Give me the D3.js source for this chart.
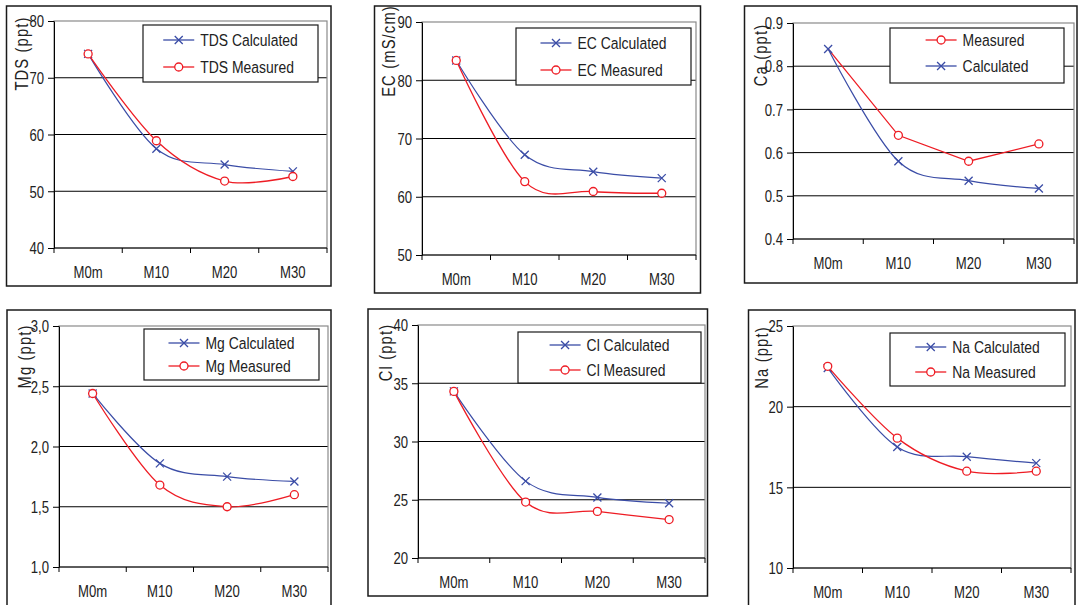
<!DOCTYPE html>
<html><head><meta charset="utf-8">
<script src="https://cdn.jsdelivr.net/npm/d3@7"></script>
<style>body{margin:0;background:#fff} svg{display:block}</style>
</head><body><svg id="c" width="1079" height="605"></svg>
<script>
// ---------- data ----------
const categories = ["M0m", "M10", "M20", "M30"];

const tdsCalc = [74.2, 57.5, 54.7, 53.5];
const tdsMeas = [74.2, 58.9, 51.8, 52.6];
const ecCalc  = [83.4, 67.2, 64.3, 63.2];
const ecMeas  = [83.4, 62.6, 60.9, 60.6];
const caCalc  = [0.84, 0.58, 0.535, 0.517];
const caMeas  = [0.84, 0.64, 0.58, 0.62];
const mgCalc  = [2.44, 1.86, 1.75, 1.71];
const mgMeas  = [2.44, 1.68, 1.50, 1.60];
const clCalc  = [34.3, 26.6, 25.2, 24.7];
const clMeas  = [34.3, 24.8, 24.0, 23.3];
const naCalc  = [22.4, 17.5, 16.9, 16.5];
const naMeas  = [22.5, 18.05, 16.0, 16.0];

const tdsTicks = [40, 50, 60, 70, 80];
const ecTicks  = [50, 60, 70, 80, 90];
const caTicks  = [0.4, 0.5, 0.6, 0.7, 0.8, 0.9];
const mgTicks  = [1.0, 1.5, 2.0, 2.5, 3.0];
const clTicks  = [20, 25, 30, 35, 40];
const naTicks  = [10, 15, 20, 25];

// ---------- fonts ----------
function hasFont(f){
  const c = document.createElement('canvas').getContext('2d');
  const s = "abcdefghijMW0123";
  c.font = "40px monospace"; const a = c.measureText(s).width;
  c.font = "40px " + f + ", monospace"; return c.measureText(s).width !== a;
}
const narrow = hasFont("'Liberation Sans Narrow'");
const fam = narrow ? "'Liberation Sans Narrow','Arial Narrow',sans-serif" : "'Liberation Sans',Arial,sans-serif";
const sx = narrow ? 1 : 0.82;

const BLUE = "#3a4ca6", RED = "#ee1c24";

// ---------- layout ----------
const fmtDot = d => d3.format(".1f")(d);
const fmtComma = d => d3.format(".1f")(d).replace(".", ",");
const fmtInt = d => String(d);

const panels = [
  {label:"TDS (ppt)", calc:tdsCalc, meas:tdsMeas, ticks:tdsTicks, fmt:fmtInt,
   names:{calc:"TDS Calculated", meas:"TDS Measured"}, legendOrder:["calc","meas"],
   frame:[6.5,6,331,286], plot:[54,21,327,248], lab:[28,53.5], box:[143,25,318,82], rows:[40,67]},
  {label:"EC (mS/cm)", calc:ecCalc, meas:ecMeas, ticks:ecTicks, fmt:fmtInt,
   names:{calc:"EC Calculated", meas:"EC Measured"}, legendOrder:["calc","meas"],
   frame:[374.5,6,700.5,293], plot:[422,22,696,255], lab:[395,51], box:[516,28,691,85], rows:[43,70]},
  {label:"Ca (ppt)", calc:caCalc, meas:caMeas, ticks:caTicks, fmt:fmtDot,
   names:{calc:"Calculated", meas:"Measured"}, legendOrder:["meas","calc"], measLinear:true, measSkipFirst:true, calcOnTop:true,
   frame:[744.5,6,1077,283], plot:[793,23,1074,239], lab:[767,55], box:[890,28,1064,83], rows:[40,66]},
  {label:"Mg (ppt)", calc:mgCalc, meas:mgMeas, ticks:mgTicks, fmt:fmtComma,
   names:{calc:"Mg Calculated", meas:"Mg Measured"}, legendOrder:["calc","meas"],
   frame:[7,310,331,615], plot:[59,326,328,567], lab:[31,356.5], box:[144,329,319,380], rows:[343,366]},
  {label:"Cl (ppt)", calc:clCalc, meas:clMeas, ticks:clTicks, fmt:fmtInt,
   names:{calc:"Cl Calculated", meas:"Cl Measured"}, legendOrder:["calc","meas"],
   frame:[368,309,707.5,596], plot:[418,325,705,558], lab:[392,352.5], box:[518,332,701,383], rows:[345,370]},
  {label:"Na (ppt)", calc:naCalc, meas:naMeas, ticks:naTicks, fmt:fmtInt,
   names:{calc:"Na Calculated", meas:"Na Measured"}, legendOrder:["calc","meas"],
   frame:[748.5,310,1075,615], plot:[793,326,1071,568], lab:[768,357.5], box:[890,333,1065,386], rows:[347,372]}
];

const svg = d3.select("#c");

function txt(g, x, y, s, size, anchor, rot, ls){
  const t = g.append("text")
    .attr("transform", `translate(${x},${y})` + (rot ? ` rotate(${rot})` : "") + (sx !== 1 ? ` scale(${sx},1)` : ""))
    .attr("font-family", fam).attr("font-size", size).attr("fill", "#222")
    .attr("text-anchor", anchor || "start").text(s);
  if (ls) t.attr("letter-spacing", ls);
  return t;
}

function marker(g, kind, x, y){
  if (kind === "calc") {
    g.append("path").attr("d", `M${x-4},${y-4}L${x+4},${y+4}M${x-4},${y+4}L${x+4},${y-4}`)
      .attr("stroke", BLUE).attr("stroke-width", 1.3).attr("fill", "none");
  } else {
    g.append("circle").attr("cx", x).attr("cy", y).attr("r", 4)
      .attr("fill", "#fff").attr("stroke", RED).attr("stroke-width", 1.3);
  }
}

panels.forEach(p => {
  const g = svg.append("g");
  const [fx0, fy0, fx1, fy1] = p.frame;
  const [L, T, R, B] = p.plot;

  g.append("rect").attr("x", fx0).attr("y", fy0).attr("width", fx1 - fx0).attr("height", fy1 - fy0)
    .attr("fill", "#fff").attr("stroke", "#1a1a1a").attr("stroke-width", 1.5);

  const x = d3.scaleBand().domain(categories).range([L, R]);
  const y = d3.scaleLinear().domain(d3.extent(p.ticks)).range([B, T]);

  // gridlines
  g.append("g").selectAll("line").data(p.ticks.slice(1, -1)).join("line")
    .attr("x1", L).attr("x2", R).attr("y1", d => y(d)).attr("y2", d => y(d))
    .attr("stroke", "#000").attr("stroke-width", 1);
  // plot area border
  g.append("rect").attr("x", L).attr("y", T).attr("width", R - L).attr("height", B - T)
    .attr("fill", "none").attr("stroke", "#8a8a8a").attr("stroke-width", 1.2);

  // y axis
  const ya = g.append("g").attr("transform", `translate(${L},0)`)
    .call(d3.axisLeft(y).tickValues(p.ticks).tickSize(6).tickSizeOuter(0).tickFormat(p.fmt));
  ya.select(".domain").attr("stroke", "#000");
  ya.selectAll(".tick line").attr("stroke", "#000");
  ya.selectAll(".tick text").attr("x", null).attr("dy", "0.36em")
    .attr("transform", `translate(-10,0)` + (sx !== 1 ? ` scale(${sx},1)` : ""))
    .attr("font-family", fam).attr("font-size", 16).attr("fill", "#222");

  // x axis
  const xa = g.append("g").attr("transform", `translate(0,${B})`);
  xa.append("line").attr("x1", L).attr("x2", R).attr("stroke", "#000");
  const bounds = categories.map(c => x(c)).concat([R]);
  xa.selectAll("line.tk").data(bounds).join("line").attr("class", "tk")
    .attr("x1", d => d).attr("x2", d => d).attr("y1", 0).attr("y2", 5).attr("stroke", "#000");
  categories.forEach(c => txt(g, x(c) + x.bandwidth() / 2, B + 30, c, 16, "middle"));

  // axis title
  txt(g, p.lab[0], p.lab[1], p.label, 18, "middle", -90, 1.4);

  // series
  const cx = (d, i) => x(categories[i]) + x.bandwidth() / 2;
  const lineSmooth = d3.line().x(cx).y(d => y(d)).curve(d3.curveCardinal.tension(0));
  const lineLin = d3.line().x(cx).y(d => y(d));
  const drawCalc = () => {
    g.append("path").attr("d", lineSmooth(p.calc)).attr("fill", "none").attr("stroke", BLUE).attr("stroke-width", 1.2);
    p.calc.forEach((d, i) => marker(g, "calc", cx(d, i), y(d)));
  };
  const drawMeas = () => {
    g.append("path").attr("d", (p.measLinear ? lineLin : lineSmooth)(p.meas)).attr("fill", "none").attr("stroke", RED).attr("stroke-width", 1.3);
    p.meas.forEach((d, i) => { if (!(p.measSkipFirst && i === 0)) marker(g, "meas", cx(d, i), y(d)); });
  };
  if (p.calcOnTop) { drawMeas(); drawCalc(); } else { drawCalc(); drawMeas(); }

  // legend
  const [bx0, by0, bx1, by1] = p.box;
  g.append("rect").attr("x", bx0).attr("y", by0).attr("width", bx1 - bx0).attr("height", by1 - by0)
    .attr("fill", "#fff").attr("stroke", "#1a1a1a").attr("stroke-width", 1.2);
  const lg = g.append("g");
  const texts = p.legendOrder.map((k, i) => txt(lg, 0, p.rows[i], p.names[k], 17, "start").attr("dy", "0.36em"));
  const tw = d3.max(texts, t => t.node().getComputedTextLength() * sx);
  const w = 37 + tw;
  const start = (bx0 + bx1) / 2 - w / 2;
  p.legendOrder.forEach((k, i) => {
    const yy = p.rows[i];
    lg.append("line").attr("x1", start).attr("x2", start + 31).attr("y1", yy).attr("y2", yy)
      .attr("stroke", k === "calc" ? BLUE : RED).attr("stroke-width", 1.3);
    marker(lg, k, start + 15.5, yy);
    texts[i].attr("transform", `translate(${start + 37},${yy})` + (sx !== 1 ? ` scale(${sx},1)` : ""));
  });
});
</script>
</body></html>
